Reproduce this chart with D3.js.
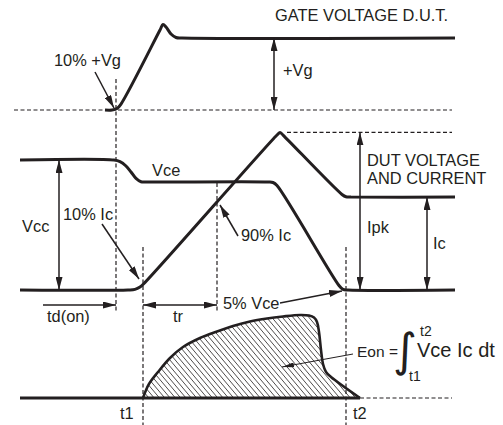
<!DOCTYPE html>
<html lang="en">
<head>
<meta charset="utf-8">
<title>IGBT turn-on switching waveforms</title>
<script src="https://d3js.org/d3.v7.min.js"></script>
<style>
  body { margin: 0; background: #fff; }
  svg text { font-family: "Liberation Sans", Arial, Helvetica, sans-serif; fill: #231f20; }
</style>
</head>
<body>
<div id="vis"></div>
<script>
// Waveforms as [time, level] pairs (time in arbitrary units, level normalised)
var gateWave = [[17,0],[18.4,0],[19.4,0.021],[20.2,0.083],[28,1.111],[28.6,1.188],[29.2,1.153],
                [30.2,1.056],[31.2,1.007],[32.4,1],[87,1]];
var currentWave = [[0,0],[21.6,0],[23,0.005],[24,0.023],[24.8,0.05],[51.4,1.192],[52,1.212],
                   [52.6,1.192],[64.4,0.735],[65.2,0.717],[66.2,0.715],[87,0.715]];
var vceWave = [[0,1],[18.8,1],[20,0.988],[21.2,0.954],[22.2,0.908],[23.2,0.858],[24.2,0.833],
               [25.4,0.831],[49.6,0.831],[50.6,0.827],[51.4,0.804],[63.8,0.035],[64.6,0.005],
               [65.6,0],[87,0]];
var eonWave = [[24.6,0],[25.8,0.169],[27.6,0.313],[30,0.482],[32.6,0.614],[36,0.723],[39.4,0.801],
               [42.6,0.867],[46,0.922],[49.4,0.958],[52.6,0.982],[56,1],[57.8,0.994],[58.8,0.97],
               [59.4,0.916],[59.8,0.795],[60.2,0.578],[60.6,0.41],[61.2,0.313],[62.2,0.253],[68,0]];

// Marker times and levels
var tGate = 19.2, t1 = 24.6, t90 = 39.4, t2 = 65.2;
var levelIc = 0.715, levelIpk = 1.212;

var width = 503, height = 425;
var ink = "#231f20";

var svg = d3.select("#vis").append("svg")
  .attr("width", width).attr("height", height);

// Scales
var x = d3.scaleLinear().domain([0, 87]).range([20, 455]);
var yGate = d3.scaleLinear().domain([0, 1]).range([110, 38]);
var yDut = d3.scaleLinear().domain([0, 1]).range([290, 160]);
var yE = d3.scaleLinear().domain([0, 1]).range([398, 315]);

// Arrow markers
var defs = svg.append("defs");
function marker(id, len, wid) {
  defs.append("marker")
    .attr("id", id)
    .attr("markerUnits", "userSpaceOnUse")
    .attr("viewBox", "0 0 " + len + " " + wid)
    .attr("refX", len).attr("refY", wid / 2)
    .attr("markerWidth", len).attr("markerHeight", wid)
    .attr("orient", "auto-start-reverse")
    .append("path")
    .attr("d", "M0,0L" + len + "," + (wid / 2) + "L0," + wid + "Z")
    .attr("fill", ink);
}
marker("ah", 13, 7);
marker("ahs", 12, 5);

// Dashed helper lines
function dashed(x1, y1, x2, y2) {
  svg.append("line")
    .attr("x1", x1).attr("y1", y1).attr("x2", x2).attr("y2", y2)
    .attr("stroke", ink).attr("stroke-width", 1.2)
    .attr("stroke-dasharray", "4,2.5");
}
dashed(x(-1.2), yGate(0), x(86.4), yGate(0));
dashed(x(53.4), yDut(levelIpk), x(86.4), yDut(levelIpk));
dashed(x(68), yE(0), x(86.4), yE(0));
dashed(x(tGate), 79, x(tGate), 313);
dashed(x(t1), 247, x(t1), 425);
dashed(x(t90), yDut(0.831) + 1, x(t90), 313);
dashed(x(t2), 247, x(t2), 425);

// Energy area with hatching
var eArea = d3.area()
  .x(function(d) { return x(d[0]); })
  .y0(yE(0))
  .y1(function(d) { return yE(d[1]); })
  .curve(d3.curveCatmullRom.alpha(0.5));
defs.append("clipPath").attr("id", "eclip")
  .append("path").attr("d", eArea(eonWave));
var hatch = svg.append("g").attr("clip-path", "url(#eclip)");
for (var hx = 60; hx < 400; hx += 5.3) {
  hatch.append("line")
    .attr("x1", hx).attr("y1", 305)
    .attr("x2", hx + 80).attr("y2", 400)
    .attr("stroke", ink).attr("stroke-width", 0.8);
}

// Waveform lines
var line = d3.line()
  .x(function(d) { return x(d[0]); })
  .curve(d3.curveCatmullRom.alpha(0.5));

function wave(data, yScale, w) {
  svg.append("path")
    .attr("d", line.y(function(d) { return yScale(d[1]); })(data))
    .attr("fill", "none").attr("stroke", ink)
    .attr("stroke-width", w).attr("stroke-linejoin", "round");
}
wave(gateWave, yGate, 3);
wave(currentWave, yDut, 3);
wave(vceWave, yDut, 3);
wave(eonWave, yE, 2.6);

// energy baseline
svg.append("line")
  .attr("x1", x(0)).attr("y1", yE(0)).attr("x2", x(68)).attr("y2", yE(0))
  .attr("stroke", ink).attr("stroke-width", 3);

// Annotation arrows
function arrow(x1, y1, x2, y2, both, small) {
  var a = svg.append("line")
    .attr("x1", x1).attr("y1", y1).attr("x2", x2).attr("y2", y2)
    .attr("stroke", ink).attr("stroke-width", small ? 1 : 1.5)
    .attr("marker-end", small ? "url(#ahs)" : "url(#ah)");
  if (both) a.attr("marker-start", "url(#ah)");
}
arrow(x(50.8), yGate(1), x(50.8), yGate(0), true);
arrow(x(7.8), yDut(1), x(7.8), yDut(0), true);
arrow(x(68), yDut(levelIpk), x(68), yDut(0), true);
arrow(x(81.4), yDut(levelIc), x(81.4), yDut(0), true);
arrow(x(4.6), 305, x(tGate), 305, false);
arrow(x(t1), 305, x(t90), 305, true);
arrow(95, 72, 114, 108, false);
arrow(102, 224, 139, 279, false);
arrow(238, 236, 220, 205, false);
arrow(280, 303, 342, 291, false);
arrow(353, 354, 282, 367, false, true);

// Labels
function label(tx, ty, s, size) {
  return svg.append("text").attr("x", tx).attr("y", ty)
    .attr("font-size", size || 16.4).text(s);
}
label(275, 21, "GATE VOLTAGE D.U.T.");
label(54, 66, "10% +Vg");
label(283, 76, "+Vg");
label(152, 176, "Vce");
label(22, 232, "Vcc");
label(63, 220, "10% Ic");
label(241, 241, "90% Ic");
label(367, 166, "DUT VOLTAGE");
label(367, 184, "AND CURRENT");
label(367, 233, "Ipk");
label(433, 249, "Ic");
label(47, 322, "td(on)");
label(173, 322, "tr");
label(223, 309, "5% Vce");
label(120, 419, "t1");
label(353, 419, "t2");
label(357, 357, "Eon =", 15.5);
label(417, 357, "Vce Ic dt", 20);
label(420, 336, "t2", 14);
label(409, 381, "t1", 14);
label(393, 366, "\u222B", 46)
  .style("font-family", "'DejaVu Sans', sans-serif");
</script>
</body>
</html>
